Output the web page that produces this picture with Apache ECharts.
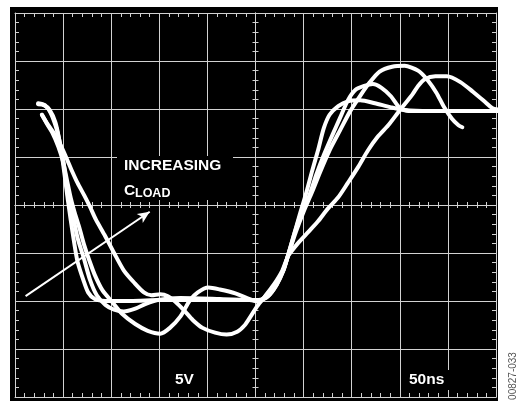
<!DOCTYPE html>
<html>
<head>
<meta charset="utf-8">
<script src="https://cdn.jsdelivr.net/npm/echarts@6/dist/echarts.min.js"></script>
<style>
html,body{margin:0;padding:0;background:#fff;}
#chart{width:518px;height:403px;}
</style>
</head>
<body>
<div id="chart"></div>
<script>
// Scope settings: 50 ns/div horizontally (10 div), 5 V/div vertically (8 div)
const NS_PER_DIV = 50;
const V_PER_DIV = 5;
const scaleLabels = ['5V', '50ns'];
const annotation = ['INCREASING', 'C', 'LOAD'];
const figureId = '00827-033';

// [time (ns, 0 = screen centre), voltage (V)]
const trace1 = [[-226,10.5],[-220,10.4],[-214,9.9],[-208,8.6],[-204,6.8],[-201,5.0],[-198,2.8],[-195,0.5],[-192,-1.6],[-189,-3.6],[-185,-5.9],[-179,-7.8],[-174,-9.1],[-167,-9.8],[-156,-10.0],[-130,-10.0],[-99,-9.9],[-58,-9.9],[-16,-9.9],[3,-9.9],[13,-9.5],[22,-8.3],[29,-6.8],[34,-5.2],[40,-3.1],[46,-1.0],[52,1.0],[59,3.6],[65,5.7],[71,8.0],[77,9.4],[86,10.3],[96,10.8],[109,10.9],[124,10.6],[140,10.2],[155,9.9],[181,9.8],[223,9.8],[254,9.8]];
const trace2 = [[-226,10.6],[-219,10.4],[-213,9.6],[-207,8.0],[-203,6.3],[-200,4.7],[-197,2.6],[-195,1.0],[-190,-1.0],[-185,-3.4],[-178,-5.7],[-172,-7.8],[-165,-9.4],[-156,-10.4],[-147,-10.9],[-137,-11.1],[-125,-10.8],[-114,-10.3],[-102,-9.9],[-78,-9.7],[-37,-9.8],[-6,-9.9],[3,-10.0],[13,-9.5],[22,-8.3],[29,-6.8],[34,-5.2],[41,-2.8],[48,-0.7],[56,1.0],[63,3.1],[71,5.2],[80,7.3],[88,9.1],[96,10.9],[104,12.0],[113,12.4],[122,12.6],[131,12.2],[141,11.3],[150,10.1],[159,9.8],[192,9.8],[254,9.8]];
const trace3 = [[-222,9.4],[-217,8.5],[-211,7.5],[-205,6.1],[-200,4.5],[-196,2.6],[-192,0.7],[-188,-0.8],[-183,-2.4],[-178,-4.2],[-173,-5.7],[-167,-7.3],[-159,-8.9],[-149,-10.1],[-139,-11.3],[-125,-12.4],[-112,-13.1],[-99,-13.4],[-89,-12.8],[-78,-11.6],[-68,-9.9],[-60,-9.1],[-49,-8.6],[-37,-8.8],[-21,-9.2],[-6,-9.8],[3,-10.1],[12,-9.3],[22,-8.0],[29,-6.8],[34,-5.2],[42,-2.8],[50,-0.7],[59,1.4],[67,3.4],[77,5.7],[88,7.8],[98,9.7],[109,11.4],[119,12.8],[129,13.9],[142,14.4],[155,14.5],[169,14.0],[179,13.0],[188,11.7],[196,10.2],[204,9.0],[211,8.3],[215,8.1]];
const trace4 = [[-222,9.4],[-216,8.4],[-209,7.4],[-203,6.3],[-197,5.0],[-191,3.6],[-185,2.3],[-178,1.0],[-172,-0.2],[-166,-1.5],[-157,-3.1],[-147,-5.0],[-137,-6.8],[-126,-8.1],[-116,-9.1],[-108,-9.4],[-99,-9.3],[-91,-9.5],[-83,-10.1],[-74,-11.0],[-65,-12.0],[-55,-12.8],[-42,-13.3],[-30,-13.5],[-19,-13.2],[-11,-12.5],[-5,-11.6],[2,-10.5],[10,-9.5],[19,-8.3],[28,-6.8],[34,-5.3],[44,-4.0],[55,-2.8],[65,-1.7],[75,-0.4],[86,0.8],[96,2.3],[107,4.0],[117,5.7],[127,7.1],[138,8.3],[148,9.6],[155,10.5],[163,11.5],[169,12.4],[176,13.1],[187,13.4],[199,13.4],[213,12.8],[226,11.8],[239,10.7],[246,10.1],[254,9.9]];
// "increasing C_LOAD" arrow, [ns, V]
const arrowFrom = [-239, -9.5];
const arrowTo = [-110, -0.7];

const GRID = '#d2d2d2';
const FONT = '"Liberation Sans", Arial, Helvetica, sans-serif';

function xAx(extra) {
  return Object.assign({
    type: 'value', min: -5 * NS_PER_DIV, max: 5 * NS_PER_DIV, interval: NS_PER_DIV,
    axisLabel: { show: false }, splitLine: { show: false },
    axisLine: { show: true, onZero: false, lineStyle: { color: GRID, width: 1 } },
    axisTick: { show: true, inside: true, length: 4, lineStyle: { color: GRID, width: 1 } },
    minorTick: { show: true, splitNumber: 5, length: 4, lineStyle: { color: GRID, width: 1 } }
  }, extra);
}
function yAx(extra) {
  return Object.assign({
    type: 'value', min: -4 * V_PER_DIV, max: 4 * V_PER_DIV, interval: V_PER_DIV,
    axisLabel: { show: false }, splitLine: { show: false },
    axisLine: { show: true, onZero: false, lineStyle: { color: GRID, width: 1 } },
    axisTick: { show: true, inside: true, length: 4, lineStyle: { color: GRID, width: 1 } },
    minorTick: { show: true, splitNumber: 5, length: 4, lineStyle: { color: GRID, width: 1 } }
  }, extra);
}
function centreTicks(inside) {
  return {
    axisLine: { show: true, onZero: true, onZeroAxisIndex: 0, lineStyle: { color: GRID, width: 1 } },
    axisTick: { show: true, inside: inside, length: 3, lineStyle: { color: GRID, width: 1 } },
    minorTick: { show: true, splitNumber: 5, length: 3, lineStyle: { color: GRID, width: 1 } }
  };
}

const traceStyle = { color: '#ffffff', width: 4, cap: 'round', join: 'round' };
function traceSeries(name, data, extra) {
  return Object.assign({
    name: name, type: 'line', data: data, xAxisIndex: 0, yAxisIndex: 0,
    showSymbol: false, symbol: 'none', smooth: 0.25, clip: false,
    lineStyle: traceStyle, z: 5, silent: true
  }, extra || {});
}

const chart = echarts.init(document.getElementById('chart'), null, { renderer: 'canvas' });
chart.setOption({
  animation: false,
  backgroundColor: '#ffffff',
  grid: { left: 15, top: 13, width: 481, height: 384, containLabel: false },
  xAxis: [
    xAx({ position: 'bottom', splitLine: { show: true, lineStyle: { color: GRID, width: 1 } } }),
    xAx({ position: 'top' }),
    xAx(Object.assign({ position: 'bottom' }, centreTicks(true))),
    xAx(Object.assign({ position: 'bottom' }, centreTicks(false)))
  ],
  yAxis: [
    yAx({ position: 'left', splitLine: { show: true, lineStyle: { color: GRID, width: 1 } } }),
    yAx({ position: 'right' }),
    yAx(Object.assign({ position: 'left' }, centreTicks(true))),
    yAx(Object.assign({ position: 'left' }, centreTicks(false)))
  ],
  graphic: [
    { type: 'rect', shape: { x: 10, y: 7, width: 488, height: 394 }, style: { fill: '#000' }, z: -100, silent: true },
    { type: 'rect', shape: { x: 117, y: 156, width: 116, height: 44 }, style: { fill: '#000' }, z: 100, silent: true },
    { type: 'rect', shape: { x: 404, y: 370, width: 48, height: 20 }, style: { fill: '#000' }, z: 100, silent: true },
    { type: 'text', x: 124, y: 166, z: 101, silent: true,
      style: { text: annotation[0], fill: '#fff', font: 'bold 15.5px ' + FONT, textAlign: 'left', textVerticalAlign: 'middle' } },
    { type: 'text', x: 124, y: 191, z: 101, silent: true,
      style: { text: annotation[1], fill: '#fff', font: 'bold 15.5px ' + FONT, textAlign: 'left', textVerticalAlign: 'middle' } },
    { type: 'text', x: 135, y: 193.5, z: 101, silent: true,
      style: { text: annotation[2], fill: '#fff', font: 'bold 12.5px ' + FONT, textAlign: 'left', textVerticalAlign: 'middle' } },
    { type: 'text', x: 175, y: 380, z: 101, silent: true,
      style: { text: scaleLabels[0], fill: '#fff', font: 'bold 15.5px ' + FONT, textAlign: 'left', textVerticalAlign: 'middle' } },
    { type: 'text', x: 409, y: 380, z: 101, silent: true,
      style: { text: scaleLabels[1], fill: '#fff', font: 'bold 15.5px ' + FONT, textAlign: 'left', textVerticalAlign: 'middle' } },
    { type: 'text', x: 513, y: 376, rotation: Math.PI / 2, z: 101, silent: true,
      style: { text: figureId, fill: '#555', font: '10px ' + FONT, textAlign: 'center', textVerticalAlign: 'middle' } }
  ],
  series: [
    traceSeries('trace1', trace1, {
      markLine: {
        silent: true, animation: false,
        symbol: ['none', 'arrow'], symbolSize: [8, 12],
        label: { show: false },
        lineStyle: { color: '#fff', width: 2, type: 'solid' },
        emphasis: { disabled: true },
        data: [[{ coord: arrowFrom }, { coord: arrowTo }]]
      }
    }),
    traceSeries('trace2', trace2),
    traceSeries('trace3', trace3),
    traceSeries('trace4', trace4)
  ]
});
</script>
</body>
</html>
